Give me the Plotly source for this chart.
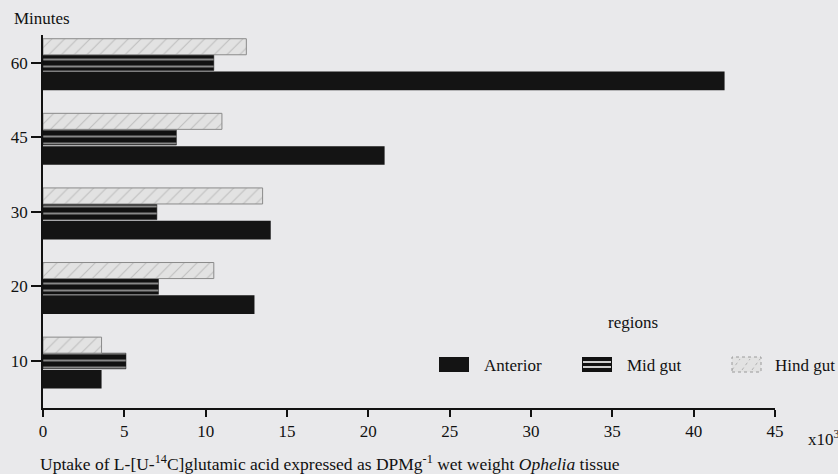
import plotly.graph_objects as go

minutes = ["10", "20", "30", "45", "60"]
anterior = [3.6, 13.0, 14.0, 21.0, 41.9]
mid_gut = [5.1, 7.1, 7.0, 8.2, 10.5]
hind_gut = [3.6, 10.5, 13.5, 11.0, 12.5]
x_ticks = [0, 5, 10, 15, 20, 25, 30, 35, 40, 45]
series_names = ["Anterior", "Mid gut", "Hind gut"]

BG = "#e9e9eb"
FONT = "Liberation Serif"
INK = "#111111"

W, H = 838, 474
# page coordinates of the plot frame
PL, PR, PT, PB = 43, 775, 35, 408


def px(x):
    return (x - PL) / (PR - PL)


def py(y):
    return (PB - y) / (PB - PT)


fig = go.Figure()
fig.add_trace(go.Bar(
    y=minutes, x=anterior, orientation="h", name=series_names[0],
    offset=-0.37, width=0.25,
    marker=dict(color="#141414", line=dict(width=0)),
))
fig.add_trace(go.Bar(
    y=minutes, x=mid_gut, orientation="h", name=series_names[1],
    offset=-0.105, width=0.21,
    marker=dict(color=INK, line=dict(color=INK, width=0.5),
                pattern=dict(shape="-", fgcolor="#ffffff", bgcolor=INK,
                             size=7, solidity=0.28, fillmode="overlay")),
))
fig.add_trace(go.Bar(
    y=minutes, x=hind_gut, orientation="h", name=series_names[2],
    offset=0.105, width=0.215,
    marker=dict(color="#e0e0e0", line=dict(color="#8a8a8a", width=1),
                pattern=dict(shape="/", fgcolor="#9a9a9a", bgcolor="#e2e2e2",
                             size=9, solidity=0.12)),
))

# hand-drawn legend (swatches + labels)
shapes = []
sy0, sy1 = 357, 372
shapes.append(dict(type="rect", xref="paper", yref="paper",
                   x0=px(439), x1=px(469), y0=py(sy1), y1=py(sy0),
                   fillcolor="#141414", line=dict(width=0)))
shapes.append(dict(type="rect", xref="paper", yref="paper",
                   x0=px(582), x1=px(612), y0=py(sy1), y1=py(sy0),
                   fillcolor=INK, line=dict(width=0)))
for yy in (362, 367):
    shapes.append(dict(type="line", xref="paper", yref="paper",
                       x0=px(583), x1=px(611), y0=py(yy), y1=py(yy),
                       line=dict(color="#ffffff", width=1.6)))
shapes.append(dict(type="rect", xref="paper", yref="paper",
                   x0=px(732), x1=px(761), y0=py(sy1), y1=py(sy0),
                   fillcolor="#e2e2e2", line=dict(color="#9a9a9a", width=1, dash="dot")))
for xx in (736, 746, 756):
    shapes.append(dict(type="line", xref="paper", yref="paper",
                       x0=px(xx - 4), x1=px(xx + 4), y0=py(370), y1=py(359),
                       line=dict(color="#a5a5a5", width=0.8, dash="dot")))

legend_texts = [
    dict(text="regions", x=px(633), y=py(322), xanchor="center"),
    dict(text=series_names[0], x=px(482), y=py(365), xanchor="left"),
    dict(text=series_names[1], x=px(625), y=py(365), xanchor="left"),
    dict(text=series_names[2], x=px(773), y=py(365), xanchor="left"),
]

annotations = [
    dict(text="Minutes", xref="paper", yref="paper", x=px(12), y=py(19),
         xanchor="left", yanchor="middle", showarrow=False,
         font=dict(family=FONT, size=17, color=INK)),
    dict(text="x10<sup>3</sup>", xref="paper", yref="paper", x=px(806), y=py(438),
         xanchor="left", yanchor="middle", showarrow=False,
         font=dict(family=FONT, size=17, color=INK)),
    dict(text="Uptake of L-[U-<sup>14</sup>C]glutamic acid expressed as DPMg<sup>-1</sup> wet weight <i>Ophelia</i> tissue",
         xref="paper", yref="paper", x=px(38), y=py(463),
         xanchor="left", yanchor="middle", showarrow=False,
         font=dict(family=FONT, size=17.5, color=INK)),
]
for t in legend_texts:
    annotations.append(dict(text=t["text"], xref="paper", yref="paper", x=t["x"], y=t["y"],
                            xanchor=t["xanchor"], yanchor="middle", showarrow=False,
                            font=dict(family=FONT, size=17, color=INK)))

fig.update_layout(
    width=W, height=H,
    margin=dict(l=PL, r=W - PR, t=PT, b=H - PB, autoexpand=False),
    paper_bgcolor=BG, plot_bgcolor=BG,
    barmode="overlay",
    font=dict(family=FONT, size=17, color=INK),
    showlegend=False,
    xaxis=dict(
        range=[0, 45], tickvals=x_ticks, ticktext=[str(v) for v in x_ticks],
        showgrid=False, zeroline=False, showline=True, linecolor=INK, linewidth=1.5,
        ticks="outside", ticklen=7, tickcolor=INK, tickwidth=1.5,
        tickfont=dict(family=FONT, size=17), automargin=False,
    ),
    yaxis=dict(
        type="category", categoryorder="array", categoryarray=minutes,
        range=[-0.63, 4.37],
        showgrid=False, zeroline=False, showline=True, linecolor=INK, linewidth=1.5,
        ticks="outside", ticklen=10, tickcolor=INK, tickwidth=1.5,
        tickfont=dict(family=FONT, size=17), automargin=False,
    ),
    shapes=shapes,
    annotations=annotations,
)

fig.write_html(
    "out.html",
    config={"displayModeBar": False},
    post_script="document.body.style.margin='0';document.body.style.overflow='hidden';",
)
